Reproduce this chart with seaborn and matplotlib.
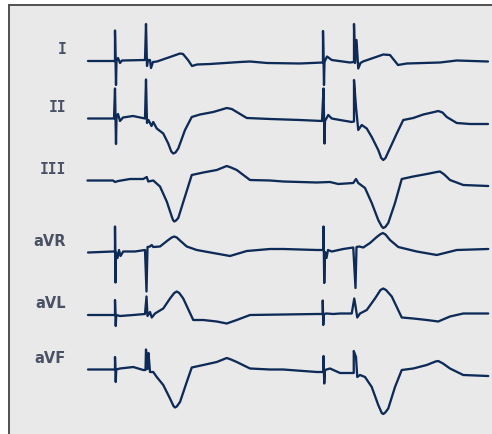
import matplotlib
matplotlib.use("Agg")
import matplotlib.pyplot as plt
import pandas as pd
import seaborn as sns

# ── Data: limb leads, two paced beats (time in ms, amplitude in mV) ───────────

LEADS = ["I", "II", "III", "aVR", "aVL", "aVF"]

I_t = [0, 108, 108, 112, 114, 120, 128, 136, 228, 232, 236, 240, 248, 252, 260, 276,
       328, 368, 380, 400, 416, 436, 488, 608, 648, 716, 848, 940, 940, 944, 946, 956,
       975, 1048, 1064, 1064, 1068, 1074, 1081, 1090, 1100, 1181, 1208, 1240, 1275, 1408,
       1475, 1600]
I_mv = [0, 0, 0.61, -0.48, 0, 0.06, -0.04, 0.01, 0.02, 0.74, -0.10, 0.02, 0.02, -0.14,
        -0.02, -0.01, 0.08, 0.15, 0.14, 0.02, -0.10, -0.07, -0.06, -0.02, -0.01, -0.04,
        -0.05, -0.03, 0.60, -0.48, -0.02, 0.09, 0.02, -0.03, -0.02, 0.74, -0.04, 0.42,
        -0.15, -0.04, -0.01, 0.13, 0.12, -0.08, -0.05, -0.03, 0.01, -0.01]

II_t = [0, 104, 108, 112, 114, 120, 128, 140, 180, 228, 232, 236, 242, 254, 261, 275,
        301, 321, 333, 341, 350, 361, 388, 415, 448, 501, 535, 555, 575, 595, 635, 728,
        848, 936, 942, 946, 948, 961, 975, 1008, 1055, 1064, 1064, 1072, 1081, 1095,
        1115, 1135, 1161, 1173, 1181, 1190, 1201, 1235, 1261, 1301, 1341, 1385, 1401,
        1418, 1435, 1475, 1528, 1600]
II_mv = [0, 0, 0.60, -0.51, 0.01, 0.09, -0.05, 0.02, 0.05, 0, 0.78, -0.09, -0.03, -0.15,
         -0.07, -0.20, -0.30, -0.50, -0.66, -0.70, -0.68, -0.60, -0.23, 0.03, 0.08, 0.13,
         0.18, 0.21, 0.19, 0.13, 0.01, -0.01, -0.03, -0.05, 0.60, -0.50, -0.05, 0.07, 0,
         -0.03, -0.07, -0.06, 0.77, 0.23, -0.23, -0.13, -0.20, -0.37, -0.63, -0.79, -0.83,
         -0.79, -0.67, -0.30, -0.03, 0.01, 0.08, 0.13, 0.15, 0.12, 0.03, -0.09, -0.11,
         -0.11]

III_t = [-2, 61, 100, 108, 121, 168, 221, 235, 241, 261, 288, 315, 335, 340, 345, 352,
         361, 388, 415, 461, 515, 540, 555, 572, 595, 648, 728, 781, 915, 968, 1001,
         1061, 1072, 1081, 1108, 1135, 1161, 1175, 1181, 1189, 1201, 1228, 1255, 1301,
         1355, 1395, 1408, 1425, 1448, 1501, 1601]
III_mv = [0, 0, 0, -0.03, -0.01, 0.03, 0.03, 0.07, -0.02, 0, -0.12, -0.42, -0.72, -0.79,
          -0.82, -0.80, -0.75, -0.32, 0.11, 0.16, 0.21, 0.26, 0.29, 0.26, 0.21, 0.01, 0,
          -0.02, -0.04, -0.03, -0.07, -0.05, 0.03, -0.05, -0.15, -0.45, -0.79, -0.92,
          -0.95, -0.93, -0.85, -0.45, 0.03, 0.08, 0.13, 0.17, 0.18, 0.12, 0.01, -0.09,
          -0.11]

aVR_t = [0, 101, 108, 108, 110, 112, 118, 124, 130, 141, 188, 228, 234, 238, 248, 255,
         261, 288, 321, 335, 345, 355, 368, 395, 435, 501, 568, 635, 728, 781, 915, 942,
         942, 945, 948, 954, 960, 975, 1021, 1061, 1070, 1074, 1085, 1101, 1128, 1155,
         1168, 1179, 1190, 1208, 1241, 1315, 1395, 1475, 1601]
aVR_mv = [0, 0.02, 0.02, 0.52, -0.60, 0, -0.11, 0.05, -0.07, 0.02, 0.02, 0.05, -0.78,
          0.11, 0.12, 0.15, 0.11, 0.12, 0.25, 0.30, 0.32, 0.30, 0.24, 0.12, 0.05, -0.01,
          -0.07, 0.03, 0.07, 0.07, 0.05, 0.05, 0.52, -0.61, 0.01, -0.11, 0.05, 0.02, 0.07,
          0.10, -0.71, 0.11, 0.12, 0.10, 0.19, 0.31, 0.36, 0.39, 0.36, 0.25, 0.11, 0.02,
          -0.05, 0.05, 0.07]

aVL_t = [0, 108, 108, 111, 113, 128, 181, 228, 234, 238, 248, 255, 268, 301, 328, 345,
         355, 365, 381, 421, 461, 515, 555, 595, 648, 781, 915, 939, 939, 941, 944, 955,
         981, 1008, 1055, 1065, 1070, 1077, 1088, 1115, 1148, 1170, 1181, 1192, 1215,
         1255, 1301, 1355, 1401, 1448, 1501, 1601]
aVL_mv = [0, 0, 0.30, -0.22, 0, -0.02, 0, 0.02, 0.37, -0.02, 0.06, -0.05, 0.03, 0.13,
          0.33, 0.44, 0.47, 0.44, 0.33, -0.10, -0.10, -0.13, -0.17, -0.10, 0, 0.01, 0.02,
          0.02, 0.29, -0.20, 0.02, 0.03, 0.02, 0.03, 0.03, 0.33, 0.18, -0.05, 0.03, 0.10,
          0.33, 0.50, 0.53, 0.50, 0.37, -0.05, -0.07, -0.10, -0.13, -0.03, 0.03, 0.03]

aVF_t = [0, 108, 108, 111, 113, 128, 181, 221, 230, 232, 238, 242, 248, 261, 275, 301,
         328, 342, 348, 355, 368, 395, 415, 461, 515, 540, 555, 572, 595, 648, 728, 781,
         915, 942, 942, 945, 948, 968, 1008, 1055, 1063, 1063, 1072, 1077, 1088, 1108,
         1135, 1161, 1175, 1181, 1189, 1201, 1228, 1255, 1301, 1355, 1390, 1401, 1420,
         1448, 1501, 1601]
aVF_mv = [0, 0, 0.25, -0.25, 0, 0.02, 0.05, -0.01, -0.01, 0.40, 0.01, 0.33, -0.05, -0.05,
          -0.15, -0.31, -0.58, -0.73, -0.76, -0.74, -0.65, -0.25, 0.04, 0.09, 0.15, 0.20,
          0.23, 0.20, 0.15, 0.02, 0, 0, -0.05, -0.05, 0.27, -0.28, -0.01, 0.02, -0.07,
          -0.07, -0.07, 0.37, 0.25, -0.15, -0.11, -0.15, -0.35, -0.71, -0.87, -0.89, -0.86,
          -0.78, -0.35, -0.01, 0.02, 0.09, 0.16, 0.17, 0.12, 0.02, -0.11, -0.13]

TRACES = {
    "I": (I_t, I_mv), "II": (II_t, II_mv), "III": (III_t, III_mv),
    "aVR": (aVR_t, aVR_mv), "aVL": (aVL_t, aVL_mv), "aVF": (aVF_t, aVF_mv),
}

# vertical placement of each strip (mV below the top of the panel)
BASELINE = {"I": -1.22, "II": -2.37, "III": -3.61, "aVR": -5.05, "aVL": -6.30, "aVF": -7.39}

TRACE_COLOR = "#0e2a56"
LABEL_COLOR = "#4a5164"
PANEL_BG    = "#e9e9e9"

rows = []
for lead in LEADS:
    ts, mvs = TRACES[lead]
    for k, (t, mv) in enumerate(zip(ts, mvs)):
        rows.append({"lead": lead, "order": k, "t": t, "y": mv + BASELINE[lead]})
df = pd.DataFrame(rows)

# ── Figure ────────────────────────────────────────────────────────────────────

sns.set_style("white")
plt.rcParams["font.family"] = ["DejaVu Sans"]

fig = plt.figure(figsize=(4.92, 4.34), dpi=100)
fig.patch.set_facecolor("white")

# panel runs off the right and bottom edge, only left/top frame visible
ax = fig.add_axes([8.5 / 492, 0, 1.2, (434 - 4.5) / 434])
ax.set_facecolor(PANEL_BG)

sns.lineplot(data=df, x="t", y="y", units="lead", estimator=None, sort=False,
             color=TRACE_COLOR, linewidth=1.65, ax=ax, legend=False,
             solid_capstyle="round", solid_joinstyle="round")

for lead in LEADS:
    # roman numerals have slab serifs in the original -> mono face
    fam = "DejaVu Sans Mono" if lead.startswith("I") else "DejaVu Sans"
    ax.text(-88, BASELINE[lead] + 0.22, lead, ha="right", va="center",
            fontsize=10.5, fontweight="bold", family=fam, color=LABEL_COLOR)

ax.set_xlim(-318, -318 + 1.2 * 492 * 4)
ax.set_ylim(-8.68, -0.09)
ax.set_xticks([])
ax.set_yticks([])
ax.set_xlabel("")
ax.set_ylabel("")
for side in ["right", "bottom"]:
    ax.spines[side].set_visible(False)
for side in ["left", "top"]:
    ax.spines[side].set_color("#505050")
    ax.spines[side].set_linewidth(1.4)

fig.savefig("out.png", dpi=100, facecolor=fig.get_facecolor())
plt.close(fig)
